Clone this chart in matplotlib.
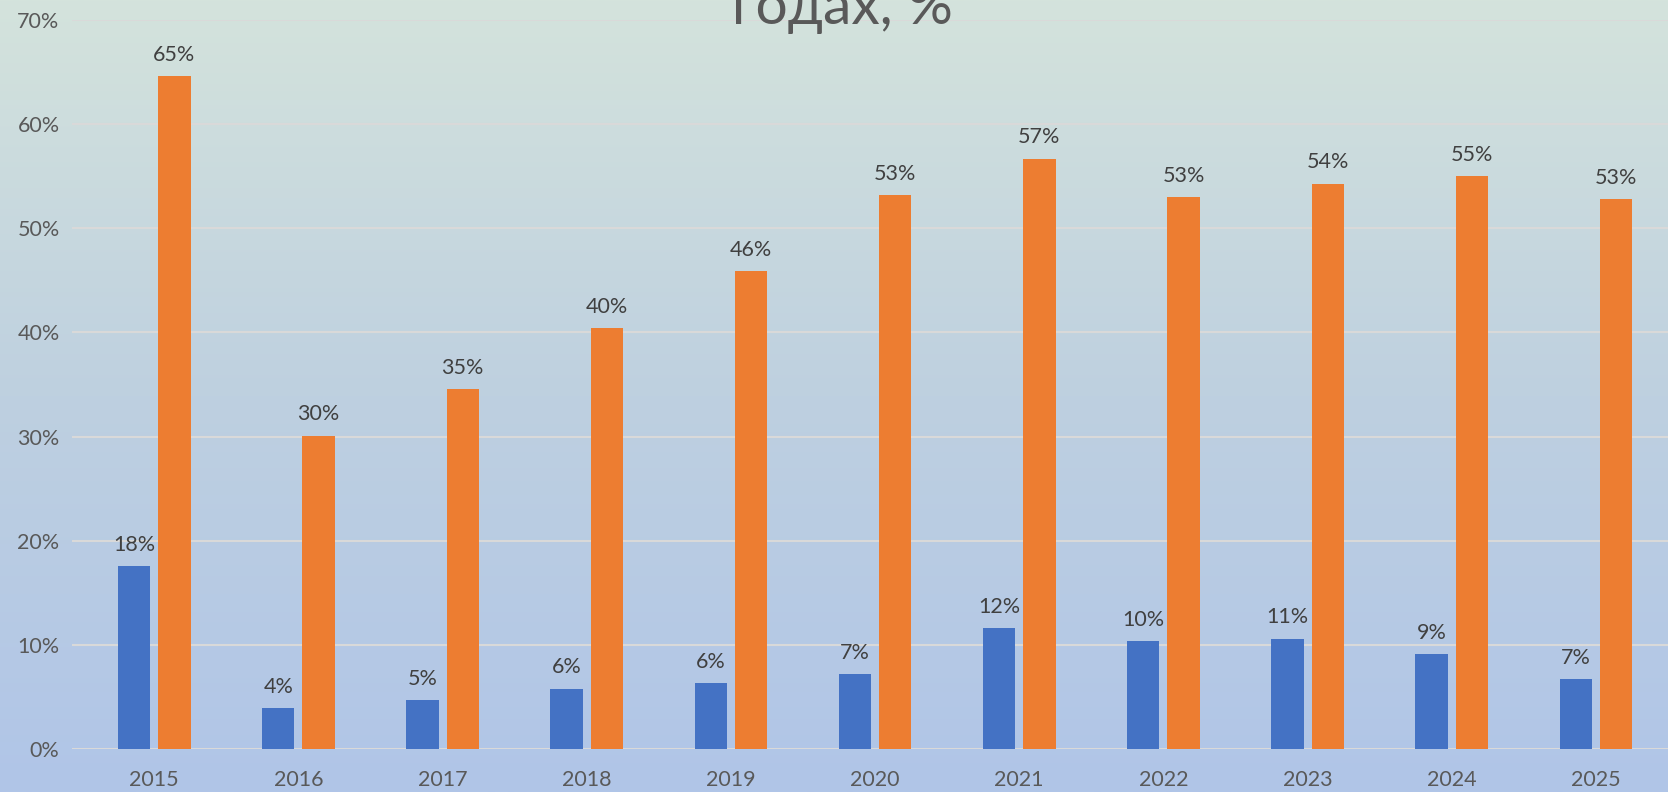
import numpy as np
import matplotlib.pyplot as plt

years = ['2015', '2016', '2017', '2018', '2019', '2020',
         '2021', '2022', '2023', '2024', '2025']
blue_vals = [17.6, 3.9, 4.7, 5.8, 6.3, 7.2, 11.6, 10.4, 10.6, 9.1, 6.7]
orange_vals = [64.6, 30.1, 34.6, 40.4, 45.9, 53.2, 56.7, 53.0, 54.3, 55.0, 52.8]
y_ticks = [0, 10, 20, 30, 40, 50, 60, 70]
title_tail = 'годах, %'

plt.rcParams['font.family'] = ['Lato', 'DejaVu Sans']

fig = plt.figure(figsize=(16.68, 7.92), dpi=100)

# gradient background (top greenish -> bottom light blue)
bg = fig.add_axes([0, 0, 1, 1], zorder=-10)
top = np.array([212, 227, 220]) / 255
mid = np.array([190, 208, 224]) / 255
bot = np.array([176, 197, 232]) / 255
t = np.linspace(0, 1, 400)[:, None]
grad = np.where(t < 0.5, top + (mid - top) * (t / 0.5), mid + (bot - mid) * ((t - 0.5) / 0.5))
bg.imshow(grad[:, None, :], aspect='auto', extent=[0, 1, 0, 1])
bg.axis('off')

ax = fig.add_axes([0.0432, 0.0543, 0.9568, 0.9204])
ax.patch.set_alpha(0)

x = np.arange(len(years))
w = 0.225
off = 0.14
b1 = ax.bar(x - off, blue_vals, w, color='#4472C4', zorder=3)
b2 = ax.bar(x + off, orange_vals, w, color='#ED7D31', zorder=3)

fmt = lambda v: f'{v:.0f}%'
ax.bar_label(b1, labels=[fmt(v) for v in blue_vals], padding=8, fontsize=15.5, color='#404040')
ax.bar_label(b2, labels=[fmt(v) for v in orange_vals], padding=8, fontsize=15.5, color='#404040')

ax.set_xlim(-0.57, 10.5)
ax.set_ylim(0, 70)
ax.set_yticks(y_ticks)
ax.set_yticklabels([f'{v}%' for v in y_ticks])
ax.set_xticks(x)
ax.set_xticklabels(years)
ax.tick_params(axis='both', length=0, labelsize=15.5, colors='#595959')
ax.tick_params(axis='x', pad=15)
ax.tick_params(axis='y', pad=9)
ax.grid(axis='y', color='#d9d9d9', linewidth=1.5, zorder=0)
for s in ax.spines.values():
    s.set_visible(False)

fig.text(0.505, 0.970, title_tail, ha='center', va='baseline', fontsize=41, color='#595959')

fig.savefig('out.png', dpi=100)
